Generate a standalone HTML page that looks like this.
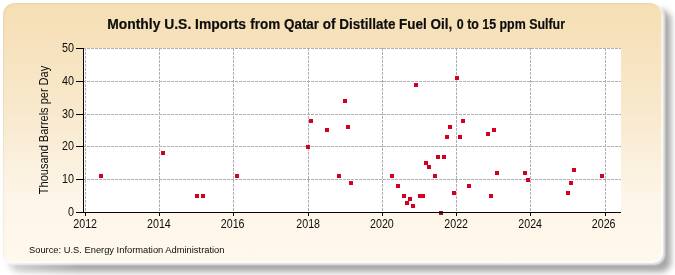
<!DOCTYPE html>
<html><head><meta charset="utf-8"><style>
html,body{margin:0;padding:0;background:#fff;width:675px;height:275px;overflow:hidden}
.shadow{position:absolute;left:9px;top:10px;width:662px;height:262px;border-radius:10px;background:linear-gradient(to right,rgba(0,0,0,0.18) 0px,rgba(0,0,0,0.35) 70px);filter:blur(3px)}
.panel{position:absolute;left:3px;top:3px;width:660px;height:260px;border-radius:12px 14px 10px 9px;
background:linear-gradient(to bottom,#f5deb3 0%,#f8e8cc 40%,#fdf5e8 75%,#fff8ec 100%);
box-shadow:inset -2px -2px 1px rgba(255,255,255,0.6), inset 1px 1px 1px rgba(120,110,80,0.08), 1px 1px 2px 1px rgba(255,255,255,0.75)}
svg{position:absolute;left:0;top:0;will-change:transform}
text{font-family:"Liberation Sans",sans-serif;fill:#0d0d0d}
</style></head><body>
<div class="shadow"></div><div class="panel"></div>
<svg width="675" height="275" viewBox="0 0 675 275" shape-rendering="crispEdges">
<rect x="84" y="48" width="537" height="164" fill="#ffffff"/>
<line x1="83" y1="48.5" x2="621" y2="48.5" stroke="#b0b0b0" stroke-width="1" stroke-dasharray="3,1"/>
<line x1="83" y1="81.5" x2="621" y2="81.5" stroke="#b0b0b0" stroke-width="1" stroke-dasharray="3,1"/>
<line x1="83" y1="114.5" x2="621" y2="114.5" stroke="#b0b0b0" stroke-width="1" stroke-dasharray="3,1"/>
<line x1="83" y1="146.5" x2="621" y2="146.5" stroke="#b0b0b0" stroke-width="1" stroke-dasharray="3,1"/>
<line x1="83" y1="179.5" x2="621" y2="179.5" stroke="#b0b0b0" stroke-width="1" stroke-dasharray="3,1"/>
<line x1="85.5" y1="48" x2="85.5" y2="212" stroke="#b0b0b0" stroke-width="1" stroke-dasharray="3,1"/>
<line x1="159.5" y1="48" x2="159.5" y2="212" stroke="#b0b0b0" stroke-width="1" stroke-dasharray="3,1"/>
<line x1="233.5" y1="48" x2="233.5" y2="212" stroke="#b0b0b0" stroke-width="1" stroke-dasharray="3,1"/>
<line x1="308.5" y1="48" x2="308.5" y2="212" stroke="#b0b0b0" stroke-width="1" stroke-dasharray="3,1"/>
<line x1="382.5" y1="48" x2="382.5" y2="212" stroke="#b0b0b0" stroke-width="1" stroke-dasharray="3,1"/>
<line x1="456.5" y1="48" x2="456.5" y2="212" stroke="#b0b0b0" stroke-width="1" stroke-dasharray="3,1"/>
<line x1="530.5" y1="48" x2="530.5" y2="212" stroke="#b0b0b0" stroke-width="1" stroke-dasharray="3,1"/>
<line x1="605.5" y1="48" x2="605.5" y2="212" stroke="#b0b0b0" stroke-width="1" stroke-dasharray="3,1"/>
<rect x="99" y="174" width="4" height="4" fill="#d40024"/>
<rect x="161" y="151" width="4" height="4" fill="#d40024"/>
<rect x="195" y="194" width="4" height="4" fill="#d40024"/>
<rect x="201" y="194" width="4" height="4" fill="#d40024"/>
<rect x="235" y="174" width="4" height="4" fill="#d40024"/>
<rect x="306" y="145" width="4" height="4" fill="#d40024"/>
<rect x="309" y="119" width="4" height="4" fill="#d40024"/>
<rect x="325" y="128" width="4" height="4" fill="#d40024"/>
<rect x="337" y="174" width="4" height="4" fill="#d40024"/>
<rect x="343" y="99" width="4" height="4" fill="#d40024"/>
<rect x="346" y="125" width="4" height="4" fill="#d40024"/>
<rect x="349" y="181" width="4" height="4" fill="#d40024"/>
<rect x="390" y="174" width="4" height="4" fill="#d40024"/>
<rect x="396" y="184" width="4" height="4" fill="#d40024"/>
<rect x="402" y="194" width="4" height="4" fill="#d40024"/>
<rect x="405" y="201" width="4" height="4" fill="#d40024"/>
<rect x="408" y="197" width="4" height="4" fill="#d40024"/>
<rect x="411" y="204" width="4" height="4" fill="#d40024"/>
<rect x="414" y="83" width="4" height="4" fill="#d40024"/>
<rect x="418" y="194" width="4" height="4" fill="#d40024"/>
<rect x="421" y="194" width="4" height="4" fill="#d40024"/>
<rect x="424" y="161" width="4" height="4" fill="#d40024"/>
<rect x="427" y="165" width="4" height="4" fill="#d40024"/>
<rect x="433" y="174" width="4" height="4" fill="#d40024"/>
<rect x="436" y="155" width="4" height="4" fill="#d40024"/>
<rect x="439" y="211" width="4" height="4" fill="#8e1420"/>
<rect x="442" y="155" width="4" height="4" fill="#d40024"/>
<rect x="445" y="135" width="4" height="4" fill="#d40024"/>
<rect x="448" y="125" width="4" height="4" fill="#d40024"/>
<rect x="452" y="191" width="4" height="4" fill="#d40024"/>
<rect x="455" y="76" width="4" height="4" fill="#d40024"/>
<rect x="458" y="135" width="4" height="4" fill="#d40024"/>
<rect x="461" y="119" width="4" height="4" fill="#d40024"/>
<rect x="467" y="184" width="4" height="4" fill="#d40024"/>
<rect x="486" y="132" width="4" height="4" fill="#d40024"/>
<rect x="489" y="194" width="4" height="4" fill="#d40024"/>
<rect x="492" y="128" width="4" height="4" fill="#d40024"/>
<rect x="495" y="171" width="4" height="4" fill="#d40024"/>
<rect x="523" y="171" width="4" height="4" fill="#d40024"/>
<rect x="526" y="178" width="4" height="4" fill="#d40024"/>
<rect x="566" y="191" width="4" height="4" fill="#d40024"/>
<rect x="569" y="181" width="4" height="4" fill="#d40024"/>
<rect x="572" y="168" width="4" height="4" fill="#d40024"/>
<rect x="600" y="174" width="4" height="4" fill="#d40024"/>
<line x1="83.5" y1="48" x2="83.5" y2="213" stroke="#000" stroke-width="1"/>
<line x1="83" y1="212.5" x2="621" y2="212.5" stroke="#000" stroke-width="1"/>
<line x1="76" y1="48.5" x2="83" y2="48.5" stroke="#000" stroke-width="1"/>
<line x1="76" y1="81.5" x2="83" y2="81.5" stroke="#000" stroke-width="1"/>
<line x1="76" y1="114.5" x2="83" y2="114.5" stroke="#000" stroke-width="1"/>
<line x1="76" y1="146.5" x2="83" y2="146.5" stroke="#000" stroke-width="1"/>
<line x1="76" y1="179.5" x2="83" y2="179.5" stroke="#000" stroke-width="1"/>
<line x1="76" y1="212.5" x2="83" y2="212.5" stroke="#000" stroke-width="1"/>
<line x1="85.5" y1="213" x2="85.5" y2="216" stroke="#000" stroke-width="1"/>
<line x1="159.5" y1="213" x2="159.5" y2="216" stroke="#000" stroke-width="1"/>
<line x1="233.5" y1="213" x2="233.5" y2="216" stroke="#000" stroke-width="1"/>
<line x1="308.5" y1="213" x2="308.5" y2="216" stroke="#000" stroke-width="1"/>
<line x1="382.5" y1="213" x2="382.5" y2="216" stroke="#000" stroke-width="1"/>
<line x1="456.5" y1="213" x2="456.5" y2="216" stroke="#000" stroke-width="1"/>
<line x1="530.5" y1="213" x2="530.5" y2="216" stroke="#000" stroke-width="1"/>
<line x1="605.5" y1="213" x2="605.5" y2="216" stroke="#000" stroke-width="1"/>
<g font-size="12" shape-rendering="auto">
<text transform="translate(74.1,51.8) scale(0.9,1)" text-anchor="end">50</text>
<text transform="translate(74.1,84.8) scale(0.9,1)" text-anchor="end">40</text>
<text transform="translate(74.1,117.8) scale(0.9,1)" text-anchor="end">30</text>
<text transform="translate(74.1,149.8) scale(0.9,1)" text-anchor="end">20</text>
<text transform="translate(74.1,182.8) scale(0.9,1)" text-anchor="end">10</text>
<text transform="translate(74.1,215.8) scale(0.9,1)" text-anchor="end">0</text>
<text transform="translate(85.15,227.6) scale(0.89,1)" text-anchor="middle">2012</text>
<text transform="translate(158.9,227.6) scale(0.89,1)" text-anchor="middle">2014</text>
<text transform="translate(232.7,227.6) scale(0.89,1)" text-anchor="middle">2016</text>
<text transform="translate(308.2,227.6) scale(0.89,1)" text-anchor="middle">2018</text>
<text transform="translate(381.9,227.6) scale(0.89,1)" text-anchor="middle">2020</text>
<text transform="translate(456.2,227.6) scale(0.89,1)" text-anchor="middle">2022</text>
<text transform="translate(530.2,227.6) scale(0.89,1)" text-anchor="middle">2024</text>
<text transform="translate(603.7,227.6) scale(0.89,1)" text-anchor="middle">2026</text>
</g>
<g font-size="14" font-weight="bold" fill="#111" stroke="#111" stroke-width="0.2"><text x="107.2" y="29" textLength="138.8" lengthAdjust="spacingAndGlyphs">Monthly U.S. Imports</text><text x="250.3" y="29" textLength="201.9" lengthAdjust="spacingAndGlyphs">from Qatar of Distillate Fuel Oil,</text><text x="456.8" y="29" textLength="108.2" lengthAdjust="spacingAndGlyphs">0 to 15 ppm Sulfur</text></g>
<text transform="translate(47.6,130) rotate(-90) scale(0.917,1)" font-size="12" text-anchor="middle">Thousand Barrels per Day</text>
<text x="29" y="253" font-size="9.33">Source: U.S. Energy Information Administration</text>
</svg>
</body></html>
